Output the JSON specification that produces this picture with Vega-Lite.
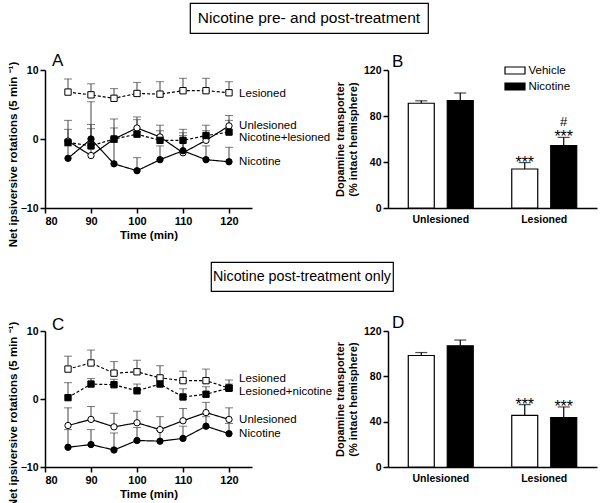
{
  "$schema": "https://vega.github.io/schema/vega-lite/v6.json",
  "background": "white",
  "padding": {"left": 7, "top": 2, "right": 2, "bottom": 2},
  "config": {
    "font": "Liberation Sans",
    "view": {"stroke": null},
    "axis": {"grid": false, "domainColor": "black", "tickColor": "black", "labelColor": "black", "titleColor": "black", "labelFont": "Liberation Sans", "titleFont": "Liberation Sans", "labelFontWeight": "bold", "labelFontSize": 10.5, "titleFontSize": 11.5, "titleFontWeight": "bold", "domainWidth": 1.5, "tickWidth": 1.5, "tickSize": 5},
    "legend": {"padding": 0}
  },
  "datasets": {
    "lineA": [
      {"t": 85, "series": "Lesioned", "mean": 6.8, "upper": 8.7},
      {"t": 90, "series": "Lesioned", "mean": 6.4, "upper": 8.0},
      {"t": 95, "series": "Lesioned", "mean": 5.9, "upper": 7.3},
      {"t": 100, "series": "Lesioned", "mean": 6.6, "upper": 8.2},
      {"t": 105, "series": "Lesioned", "mean": 6.5, "upper": 8.3},
      {"t": 110, "series": "Lesioned", "mean": 7.0, "upper": 8.8},
      {"t": 115, "series": "Lesioned", "mean": 7.0, "upper": 8.8},
      {"t": 120, "series": "Lesioned", "mean": 6.7, "upper": 8.3},
      {"t": 85, "series": "Unlesioned", "mean": -0.3, "upper": 2.7},
      {"t": 90, "series": "Unlesioned", "mean": -2.4, "upper": 5.4},
      {"t": 95, "series": "Unlesioned", "mean": 0.0, "upper": 2.9},
      {"t": 100, "series": "Unlesioned", "mean": 1.6, "upper": 3.2},
      {"t": 105, "series": "Unlesioned", "mean": 0.3, "upper": 2.0},
      {"t": 110, "series": "Unlesioned", "mean": -2.0, "upper": 0.9},
      {"t": 115, "series": "Unlesioned", "mean": -0.2, "upper": 2.0},
      {"t": 120, "series": "Unlesioned", "mean": 1.9, "upper": 3.4},
      {"t": 85, "series": "Nicotine+lesioned", "mean": -0.5, "upper": 1.4},
      {"t": 90, "series": "Nicotine+lesioned", "mean": -1.0, "upper": 2.1},
      {"t": 95, "series": "Nicotine+lesioned", "mean": 0.0, "upper": 1.6},
      {"t": 100, "series": "Nicotine+lesioned", "mean": 0.7, "upper": 2.8},
      {"t": 105, "series": "Nicotine+lesioned", "mean": -0.2, "upper": 1.2},
      {"t": 110, "series": "Nicotine+lesioned", "mean": -0.2, "upper": 1.4},
      {"t": 115, "series": "Nicotine+lesioned", "mean": 0.5, "upper": 1.2},
      {"t": 120, "series": "Nicotine+lesioned", "mean": 1.0, "upper": 2.7},
      {"t": 85, "series": "Nicotine", "mean": -2.8, "upper": -1.0},
      {"t": 90, "series": "Nicotine", "mean": 0.0, "upper": 1.5},
      {"t": 95, "series": "Nicotine", "mean": -3.6, "upper": -0.5},
      {"t": 100, "series": "Nicotine", "mean": -4.6, "upper": -2.7},
      {"t": 105, "series": "Nicotine", "mean": -3.0, "upper": -1.0},
      {"t": 110, "series": "Nicotine", "mean": -1.7, "upper": 0.5},
      {"t": 115, "series": "Nicotine", "mean": -3.0, "upper": -1.0},
      {"t": 120, "series": "Nicotine", "mean": -3.3, "upper": -1.2}
    ],
    "labA": [
      {"t": 122.2, "pos": 6.5, "label": "Lesioned"},
      {"t": 122.2, "pos": 1.9, "label": "Unlesioned"},
      {"t": 122.2, "pos": 0.1, "label": "Nicotine+lesioned"},
      {"t": 122.2, "pos": -3.4, "label": "Nicotine"}
    ],
    "lineC": [
      {"t": 85, "series": "Lesioned", "mean": 4.4, "upper": 6.3},
      {"t": 90, "series": "Lesioned", "mean": 5.3, "upper": 7.2},
      {"t": 95, "series": "Lesioned", "mean": 3.8, "upper": 5.5},
      {"t": 100, "series": "Lesioned", "mean": 4.0, "upper": 5.7},
      {"t": 105, "series": "Lesioned", "mean": 3.1, "upper": 4.9},
      {"t": 110, "series": "Lesioned", "mean": 2.7, "upper": 4.1},
      {"t": 115, "series": "Lesioned", "mean": 2.7, "upper": 4.4},
      {"t": 120, "series": "Lesioned", "mean": 1.6, "upper": 2.8},
      {"t": 85, "series": "Unlesioned", "mean": -3.9, "upper": -1.3},
      {"t": 90, "series": "Unlesioned", "mean": -3.0, "upper": -1.1},
      {"t": 95, "series": "Unlesioned", "mean": -4.1, "upper": -2.1},
      {"t": 100, "series": "Unlesioned", "mean": -3.5, "upper": -1.8},
      {"t": 105, "series": "Unlesioned", "mean": -4.5, "upper": -2.6},
      {"t": 110, "series": "Unlesioned", "mean": -3.2, "upper": -1.4},
      {"t": 115, "series": "Unlesioned", "mean": -2.0, "upper": -0.5},
      {"t": 120, "series": "Unlesioned", "mean": -3.0, "upper": -1.3},
      {"t": 85, "series": "Lesioned+nicotine", "mean": 0.2, "upper": 2.4},
      {"t": 90, "series": "Lesioned+nicotine", "mean": 2.2, "upper": 3.0},
      {"t": 95, "series": "Lesioned+nicotine", "mean": 2.1, "upper": 2.9},
      {"t": 100, "series": "Lesioned+nicotine", "mean": 1.2, "upper": 2.2},
      {"t": 105, "series": "Lesioned+nicotine", "mean": 2.2, "upper": 3.0},
      {"t": 110, "series": "Lesioned+nicotine", "mean": 0.3, "upper": 1.5},
      {"t": 115, "series": "Lesioned+nicotine", "mean": 0.7, "upper": 1.8},
      {"t": 120, "series": "Lesioned+nicotine", "mean": 1.6, "upper": 2.2},
      {"t": 85, "series": "Nicotine", "mean": -7.1, "upper": -4.5},
      {"t": 90, "series": "Nicotine", "mean": -6.7, "upper": -4.5},
      {"t": 95, "series": "Nicotine", "mean": -7.5, "upper": -5.0},
      {"t": 100, "series": "Nicotine", "mean": -6.1, "upper": -4.2},
      {"t": 105, "series": "Nicotine", "mean": -6.2, "upper": -4.6},
      {"t": 110, "series": "Nicotine", "mean": -5.8, "upper": -4.0},
      {"t": 115, "series": "Nicotine", "mean": -4.0, "upper": -2.6},
      {"t": 120, "series": "Nicotine", "mean": -5.1, "upper": -3.6}
    ],
    "labC": [
      {"t": 122.2, "pos": 2.9, "label": "Lesioned"},
      {"t": 122.2, "pos": 1.0, "label": "Lesioned+nicotine"},
      {"t": 122.2, "pos": -3.1, "label": "Unlesioned"},
      {"t": 122.2, "pos": -5.2, "label": "Nicotine"}
    ],
    "barB": [
      {"group": "Unlesioned", "treatment": "Vehicle", "mean": 91.1, "upper": 93.2, "sig": "", "sig2": ""},
      {"group": "Unlesioned", "treatment": "Nicotine", "mean": 93.5, "upper": 100.0, "sig": "", "sig2": ""},
      {"group": "Lesioned", "treatment": "Vehicle", "mean": 33.9, "upper": 39.5, "sig": "***", "sig2": ""},
      {"group": "Lesioned", "treatment": "Nicotine", "mean": 54.3, "upper": 61.4, "sig": "***", "sig2": "#"}
    ],
    "barD": [
      {"group": "Unlesioned", "treatment": "Vehicle", "mean": 98.4, "upper": 101.0, "sig": "", "sig2": ""},
      {"group": "Unlesioned", "treatment": "Nicotine", "mean": 107.0, "upper": 112.0, "sig": "", "sig2": ""},
      {"group": "Lesioned", "treatment": "Vehicle", "mean": 45.6, "upper": 55.0, "sig": "***", "sig2": ""},
      {"group": "Lesioned", "treatment": "Nicotine", "mean": 43.6, "upper": 53.0, "sig": "***", "sig2": ""}
    ],
    "boxA": [{"text": "Nicotine pre- and post-treatment"}],
    "boxC": [{"text": "Nicotine post-treatment only"}],
    "blank": [{"text": ""}]
  },
  "center": true,
  "spacing": 14,
  "resolve": {"scale": {"fill": "independent", "shape": "independent", "strokeDash": "independent"}, "legend": {"fill": "independent", "shape": "independent", "strokeDash": "independent"}},
  "vconcat": [
    {
      "center": true,
      "spacing": 18,
      "resolve": {"scale": {"fill": "independent", "shape": "independent", "strokeDash": "independent"}, "legend": {"fill": "independent", "shape": "independent", "strokeDash": "independent"}},
      "vconcat": [
        {
          "bounds": "flush",
          "spacing": 0,
          "hconcat": [
            {
              "width": 238, "height": 30,
              "view": {"stroke": "black", "strokeWidth": 1.2},
              "data": {"name": "boxA"},
              "mark": {"type": "text", "fontSize": 15.5, "font": "Liberation Sans", "color": "black"},
              "encoding": {"text": {"field": "text", "type": "nominal"}}
            },
            {"width": 24, "height": 30, "data": {"name": "blank"}, "mark": {"type": "text"}, "encoding": {"text": {"field": "text", "type": "nominal"}}}
          ]
        },
        {
          "bounds": "flush",
          "spacing": 136,
          "resolve": {"scale": {"fill": "independent", "shape": "independent", "strokeDash": "independent"}, "legend": {"fill": "independent", "shape": "independent", "strokeDash": "independent"}},
          "hconcat": [
            {
              "width": 207, "height": 138,
              "encoding": {
                "x": {"field": "t", "type": "quantitative", "scale": {"domain": [80, 125], "nice": false}, "axis": {"values": [80, 90, 100, 110, 120], "title": "Time (min)", "titlePadding": 3, "labelFontSize": 11}}
              },
              "layer": [
                {"data": {"name": "lineA"}, "mark": {"type": "rule", "color": "#444", "strokeWidth": 1}, "encoding": {"y": {"field": "mean", "type": "quantitative", "scale": {"domain": [-10, 10], "nice": false}, "axis": {"values": [-10, -5, 0, 5, 10], "title": "Net ipsiversive rotations (5 min ⁻¹)", "titlePadding": 2, "titleY": 84}}, "y2": {"field": "upper"}}},
                {"data": {"name": "lineA"}, "mark": {"type": "tick", "orient": "horizontal", "size": 8, "thickness": 1, "color": "#444"}, "encoding": {"y": {"field": "upper", "type": "quantitative"}}},
                {"data": {"name": "lineA"}, "mark": {"type": "line", "color": "black", "strokeWidth": 1.2}, "encoding": {"y": {"field": "mean", "type": "quantitative"}, "detail": {"field": "series"}, "strokeDash": {"field": "series", "type": "nominal", "scale": {"domain": ["Lesioned", "Unlesioned", "Nicotine+lesioned", "Nicotine"], "range": [[3, 2], [1, 0], [3, 2], [1, 0]]}, "legend": null}}},
                {"data": {"name": "lineA"}, "mark": {"type": "point", "filled": true, "size": 40, "opacity": 1, "stroke": "black", "strokeWidth": 1}, "encoding": {"y": {"field": "mean", "type": "quantitative"}, "shape": {"field": "series", "type": "nominal", "scale": {"domain": ["Lesioned", "Unlesioned", "Nicotine+lesioned", "Nicotine"], "range": ["square", "circle", "square", "circle"]}, "legend": null}, "fill": {"field": "series", "type": "nominal", "scale": {"domain": ["Lesioned", "Unlesioned", "Nicotine+lesioned", "Nicotine"], "range": ["white", "white", "black", "black"]}, "legend": null}}},
                {"data": {"name": "labA"}, "mark": {"type": "text", "align": "left", "baseline": "middle", "fontSize": 11.5, "color": "black"}, "encoding": {"y": {"field": "pos", "type": "quantitative"}, "text": {"field": "label"}}},
                {"data": {"values": [{"letter": "A"}]}, "mark": {"type": "text", "align": "left", "baseline": "alphabetic", "fontSize": 17, "dx": 7, "dy": -4, "color": "black"}, "encoding": {"x": {"value": 0}, "y": {"datum": 10}, "text": {"field": "letter"}}}
              ]
            },
            {
              "width": 209, "height": 138,
              "data": {"name": "barB"},
              "layer": [
                {"mark": {"type": "rule", "color": "black", "strokeWidth": 1.2}, "encoding": {
                  "x": {"field": "group", "type": "nominal", "sort": ["Unlesioned", "Lesioned"], "scale": {"paddingInner": 0.372, "paddingOuter": 0.196}, "axis": {"title": null, "labelAngle": 0, "ticks": false, "labelPadding": 6}},
                  "xOffset": {"field": "treatment", "type": "nominal", "sort": ["Vehicle", "Nicotine"], "scale": {"paddingInner": 0.333, "paddingOuter": 0}},
                  "y": {"field": "mean", "type": "quantitative", "scale": {"domain": [0, 120], "nice": false}, "axis": {"values": [0, 40, 80, 120], "title": ["Dopamine transporter", "(% intact hemisphere)"], "titlePadding": 5, "titleFontSize": 11}}, "y2": {"field": "upper"}}},
                {"mark": {"type": "tick", "orient": "horizontal", "size": 12, "thickness": 1.2, "color": "black"}, "encoding": {
                  "x": {"field": "group", "type": "nominal", "sort": ["Unlesioned", "Lesioned"]},
                  "xOffset": {"field": "treatment", "type": "nominal", "sort": ["Vehicle", "Nicotine"]},
                  "y": {"field": "upper", "type": "quantitative"}}},
                {"mark": {"type": "bar", "stroke": "black", "strokeWidth": 1.2}, "encoding": {
                  "x": {"field": "group", "type": "nominal", "sort": ["Unlesioned", "Lesioned"]},
                  "xOffset": {"field": "treatment", "type": "nominal", "sort": ["Vehicle", "Nicotine"]},
                  "y": {"field": "mean", "type": "quantitative"},
                  "fill": {"field": "treatment", "type": "nominal", "scale": {"domain": ["Vehicle", "Nicotine"], "range": ["white", "black"]}, "legend": {"orient": "none", "legendX": 121, "legendY": -5.5, "title": null, "symbolType": "M-2,-0.7H2V0.7H-2Z", "symbolSize": 100, "symbolStrokeColor": "black", "symbolStrokeWidth": 1.2, "labelFontSize": 11.5, "labelFont": "Liberation Sans", "labelColor": "black", "rowPadding": 4, "labelOffset": 7.5}}}},
                {"mark": {"type": "text", "baseline": "alphabetic", "dy": 5, "fontSize": 16, "color": "black"}, "encoding": {
                  "x": {"field": "group", "type": "nominal", "sort": ["Unlesioned", "Lesioned"]},
                  "xOffset": {"field": "treatment", "type": "nominal", "sort": ["Vehicle", "Nicotine"]},
                  "y": {"field": "upper", "type": "quantitative"}, "text": {"field": "sig"}}},
                {"mark": {"type": "text", "baseline": "alphabetic", "dy": -11, "fontSize": 13, "color": "black"}, "encoding": {
                  "x": {"field": "group", "type": "nominal", "sort": ["Unlesioned", "Lesioned"]},
                  "xOffset": {"field": "treatment", "type": "nominal", "sort": ["Vehicle", "Nicotine"]},
                  "y": {"field": "upper", "type": "quantitative"}, "text": {"field": "sig2"}}},
                {"data": {"values": [{"letter": "B"}]}, "mark": {"type": "text", "align": "left", "baseline": "alphabetic", "fontSize": 17, "dx": 4, "dy": -3, "color": "black"}, "encoding": {"x": {"value": 0}, "y": {"datum": 120}, "text": {"field": "letter"}}}
              ]
            }
          ]
        }
      ]
    },
    {
      "center": true,
      "spacing": 22,
      "resolve": {"scale": {"fill": "independent", "shape": "independent", "strokeDash": "independent"}, "legend": {"fill": "independent", "shape": "independent", "strokeDash": "independent"}},
      "vconcat": [
        {
          "bounds": "flush",
          "spacing": 0,
          "hconcat": [
            {
              "width": 182, "height": 29,
              "view": {"stroke": "black", "strokeWidth": 1.2},
              "data": {"name": "boxC"},
              "mark": {"type": "text", "fontSize": 14.3, "font": "Liberation Sans", "color": "black"},
              "encoding": {"text": {"field": "text", "type": "nominal"}}
            },
            {"width": 38, "height": 29, "data": {"name": "blank"}, "mark": {"type": "text"}, "encoding": {"text": {"field": "text", "type": "nominal"}}}
          ]
        },
        {
          "bounds": "flush",
          "spacing": 136,
          "resolve": {"scale": {"fill": "independent", "shape": "independent", "strokeDash": "independent"}, "legend": {"fill": "independent", "shape": "independent", "strokeDash": "independent"}},
          "hconcat": [
            {
              "width": 207, "height": 136,
              "encoding": {
                "x": {"field": "t", "type": "quantitative", "scale": {"domain": [80, 125], "nice": false}, "axis": {"values": [80, 90, 100, 110, 120], "title": "Time (min)", "titlePadding": 3, "labelFontSize": 11}}
              },
              "layer": [
                {"data": {"name": "lineC"}, "mark": {"type": "rule", "color": "#444", "strokeWidth": 1}, "encoding": {"y": {"field": "mean", "type": "quantitative", "scale": {"domain": [-10, 10], "nice": false}, "axis": {"values": [-10, -5, 0, 5, 10], "title": "Net ipsiversive rotations (5 min ⁻¹)", "titlePadding": 2, "titleY": 83}}, "y2": {"field": "upper"}}},
                {"data": {"name": "lineC"}, "mark": {"type": "tick", "orient": "horizontal", "size": 8, "thickness": 1, "color": "#444"}, "encoding": {"y": {"field": "upper", "type": "quantitative"}}},
                {"data": {"name": "lineC"}, "mark": {"type": "line", "color": "black", "strokeWidth": 1.2}, "encoding": {"y": {"field": "mean", "type": "quantitative"}, "detail": {"field": "series"}, "strokeDash": {"field": "series", "type": "nominal", "scale": {"domain": ["Lesioned", "Unlesioned", "Lesioned+nicotine", "Nicotine"], "range": [[3, 2], [1, 0], [3, 2], [1, 0]]}, "legend": null}}},
                {"data": {"name": "lineC"}, "mark": {"type": "point", "filled": true, "size": 40, "opacity": 1, "stroke": "black", "strokeWidth": 1}, "encoding": {"y": {"field": "mean", "type": "quantitative"}, "shape": {"field": "series", "type": "nominal", "scale": {"domain": ["Lesioned", "Unlesioned", "Lesioned+nicotine", "Nicotine"], "range": ["square", "circle", "square", "circle"]}, "legend": null}, "fill": {"field": "series", "type": "nominal", "scale": {"domain": ["Lesioned", "Unlesioned", "Lesioned+nicotine", "Nicotine"], "range": ["white", "white", "black", "black"]}, "legend": null}}},
                {"data": {"name": "labC"}, "mark": {"type": "text", "align": "left", "baseline": "middle", "fontSize": 11.5, "color": "black"}, "encoding": {"y": {"field": "pos", "type": "quantitative"}, "text": {"field": "label"}}},
                {"data": {"values": [{"letter": "C"}]}, "mark": {"type": "text", "align": "left", "baseline": "alphabetic", "fontSize": 17, "dx": 7, "dy": -1, "color": "black"}, "encoding": {"x": {"value": 0}, "y": {"datum": 10}, "text": {"field": "letter"}}}
              ]
            },
            {
              "width": 209, "height": 136,
              "data": {"name": "barD"},
              "layer": [
                {"mark": {"type": "rule", "color": "black", "strokeWidth": 1.2}, "encoding": {
                  "x": {"field": "group", "type": "nominal", "sort": ["Unlesioned", "Lesioned"], "scale": {"paddingInner": 0.372, "paddingOuter": 0.196}, "axis": {"title": null, "labelAngle": 0, "ticks": false, "labelPadding": 6}},
                  "xOffset": {"field": "treatment", "type": "nominal", "sort": ["Vehicle", "Nicotine"], "scale": {"paddingInner": 0.333, "paddingOuter": 0}},
                  "y": {"field": "mean", "type": "quantitative", "scale": {"domain": [0, 120], "nice": false}, "axis": {"values": [0, 40, 80, 120], "title": ["Dopamine transporter", "(% intact hemisphere)"], "titlePadding": 5, "titleFontSize": 11}}, "y2": {"field": "upper"}}},
                {"mark": {"type": "tick", "orient": "horizontal", "size": 12, "thickness": 1.2, "color": "black"}, "encoding": {
                  "x": {"field": "group", "type": "nominal", "sort": ["Unlesioned", "Lesioned"]},
                  "xOffset": {"field": "treatment", "type": "nominal", "sort": ["Vehicle", "Nicotine"]},
                  "y": {"field": "upper", "type": "quantitative"}}},
                {"mark": {"type": "bar", "stroke": "black", "strokeWidth": 1.2}, "encoding": {
                  "x": {"field": "group", "type": "nominal", "sort": ["Unlesioned", "Lesioned"]},
                  "xOffset": {"field": "treatment", "type": "nominal", "sort": ["Vehicle", "Nicotine"]},
                  "y": {"field": "mean", "type": "quantitative"},
                  "fill": {"field": "treatment", "type": "nominal", "scale": {"domain": ["Vehicle", "Nicotine"], "range": ["white", "black"]}, "legend": null}}},
                {"mark": {"type": "text", "baseline": "alphabetic", "dy": 5, "fontSize": 16, "color": "black"}, "encoding": {
                  "x": {"field": "group", "type": "nominal", "sort": ["Unlesioned", "Lesioned"]},
                  "xOffset": {"field": "treatment", "type": "nominal", "sort": ["Vehicle", "Nicotine"]},
                  "y": {"field": "upper", "type": "quantitative"}, "text": {"field": "sig"}}},
                {"data": {"values": [{"letter": "D"}]}, "mark": {"type": "text", "align": "left", "baseline": "alphabetic", "fontSize": 17, "dx": 4, "dy": -3, "color": "black"}, "encoding": {"x": {"value": 0}, "y": {"datum": 120}, "text": {"field": "letter"}}}
              ]
            }
          ]
        }
      ]
    }
  ]
}
